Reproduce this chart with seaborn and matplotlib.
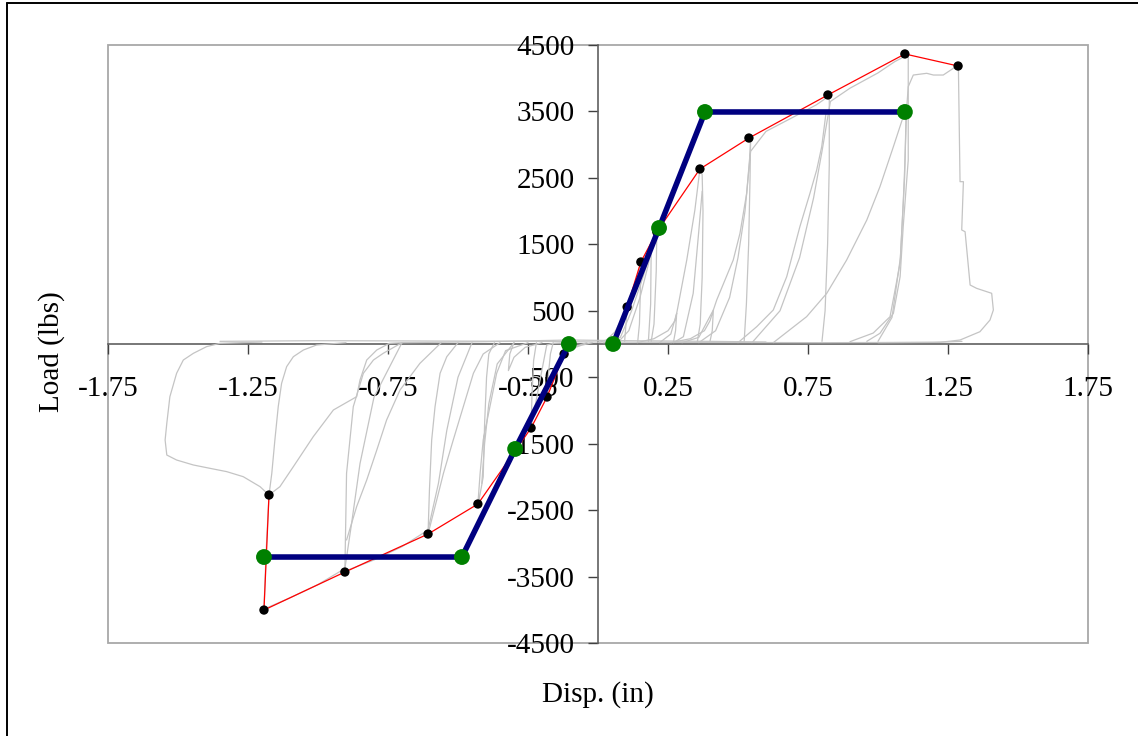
import matplotlib
matplotlib.use("Agg")
import matplotlib.pyplot as plt
import seaborn as sns
from matplotlib.patches import Rectangle
from matplotlib.lines import Line2D

# envelope points (black dots, red line)
env_pos_x = [0.104, 0.153, 0.21, 0.364, 0.539, 0.821, 1.096, 1.286]
env_pos_y = [557, 1234, 1686, 2634, 3100, 3748, 4365, 4184]
env_neg_x = [-0.121, -0.182, -0.239, -0.429, -0.607, -0.904, -1.193, -1.175]
env_neg_y = [-150, -798, -1264, -2408, -2860, -3432, -4004, -2273]

# bilinear fit (blue line, green dots)
bil_pos_x = [0.054, 0.218, 0.382, 1.096]
bil_pos_y = [0, 1746, 3492, 3492]
bil_neg_x = [-0.104, -0.296, -0.486, -1.193]
bil_neg_y = [0, -1580, -3206, -3206]

# raw test traces (gray)
base_x = [-1.35, -1.0, -0.6, -0.2, 0.0, 0.3, 0.8, 1.2, 1.3]
base_y = [40, 50, 45, 40, 30, 25, 20, 25, 40]
base2_x = [-0.7, -0.4, -0.1, 0.1, 0.4, 0.6]
base2_y = [20, 35, 60, 50, 40, 30]

p1_x = [0.0, 0.03, 0.06, 0.085, 0.104, 0.1, 0.095]
p1_y = [20, 60, 180, 380, 557, 300, 40]
p2_x = [0.02, 0.06, 0.09, 0.12, 0.14, 0.153, 0.152, 0.148, 0.142]
p2_y = [20, 80, 300, 700, 1000, 1234, 900, 300, 40]
p3_x = [0.04, 0.08, 0.12, 0.16, 0.19, 0.21, 0.208, 0.2, 0.19]
p3_y = [20, 100, 500, 1000, 1400, 1686, 1100, 300, 40]
p3b_x = [0.07, 0.11, 0.15, 0.18, 0.19, 0.188, 0.18]
p3b_y = [20, 200, 700, 1200, 1450, 600, 40]
s1_x = [0.14, 0.2, 0.25, 0.275, 0.281, 0.277, 0.27]
s1_y = [20, 80, 200, 350, 462, 200, 40]
s2_x = [0.26, 0.33, 0.38, 0.4, 0.412, 0.408, 0.4]
s2_y = [20, 80, 200, 350, 512, 200, 40]
p4_x = [0.22, 0.26, 0.281, 0.317, 0.346, 0.364, 0.372, 0.375, 0.372, 0.365, 0.355]
p4_y = [20, 150, 462, 1264, 2017, 2634, 2550, 2000, 1000, 300, 40]
p4b_x = [0.27, 0.305, 0.34, 0.36, 0.372]
p4b_y = [20, 110, 763, 1700, 2300]
p5_x = [0.3, 0.36, 0.412, 0.424, 0.483, 0.507, 0.531, 0.543, 0.545, 0.543, 0.538, 0.53, 0.522]
p5_y = [20, 100, 512, 662, 1264, 1665, 2268, 2870, 3080, 2500, 1500, 600, 40]
p6_x = [0.36, 0.42, 0.47, 0.5, 0.525, 0.545, 0.6, 0.7, 0.78, 0.821, 0.826, 0.826, 0.82, 0.811, 0.8]
p6_y = [20, 200, 700, 1300, 2000, 2900, 3200, 3420, 3600, 3720, 3740, 2700, 1500, 500, 40]
p6b_x = [0.5, 0.567, 0.626, 0.674, 0.721, 0.757, 0.781, 0.799, 0.815]
p6b_y = [20, 261, 512, 1013, 1766, 2268, 2619, 2970, 3500]
p7_x = [0.55, 0.65, 0.72, 0.77, 0.8, 0.83, 0.9, 1.0, 1.06, 1.096, 1.108, 1.108, 1.09, 1.079, 1.055, 1.007, 0.96]
p7_y = [20, 500, 1300, 2200, 2900, 3650, 3850, 4080, 4250, 4330, 4320, 2769, 1765, 1013, 462, 161, 40]
p7b_x = [0.626, 0.745, 0.817, 0.888, 0.96, 1.007, 1.055, 1.096, 1.1, 1.095, 1.08, 1.05, 1.0]
p7b_y = [20, 411, 763, 1264, 1866, 2368, 2970, 3497, 3400, 2500, 1300, 400, 40]
p8_x = [0.9, 0.983, 1.043, 1.079, 1.09, 1.096, 1.102, 1.108, 1.126, 1.174, 1.198, 1.233, 1.269, 1.287,
        1.293, 1.305, 1.299, 1.311, 1.329, 1.352, 1.406, 1.412, 1.4, 1.364, 1.293, 1.221, 1.0]
p8_y = [35, 165, 411, 1219, 2117, 2720, 3522, 3873, 4048, 4074, 4048, 4048, 4149, 4199,
        2443, 2443, 1716, 1690, 888, 838, 763, 512, 361, 185, 60, 25, 20]

n1_x = [-0.02, -0.06, -0.1, -0.121, -0.118, -0.11]
n1_y = [20, -20, -80, -150, -60, 20]
n2_x = [-0.04, -0.09, -0.13, -0.16, -0.182, -0.178, -0.17, -0.16]
n2_y = [20, -50, -200, -450, -798, -500, -150, 20]
n3_x = [-0.1, -0.16, -0.183, -0.207, -0.225, -0.239, -0.236, -0.23, -0.22]
n3_y = [20, 10, -15, -542, -943, -1264, -800, -250, 20]
ns1_x = [-0.2, -0.26, -0.3, -0.32, -0.315, -0.3]
ns1_y = [20, -50, -200, -400, -150, 20]
n4_x = [-0.25, -0.33, -0.362, -0.386, -0.41, -0.421, -0.429, -0.425, -0.41, -0.405, -0.398, -0.39, -0.37]
n4_y = [20, -100, -441, -943, -1445, -1946, -2408, -2350, -2000, -1200, -500, -150, 20]
n4b_x = [-0.3, -0.36, -0.39, -0.405, -0.415]
n4b_y = [20, -300, -900, -1500, -2100]
n5_x = [-0.35, -0.41, -0.445, -0.481, -0.517, -0.552, -0.576, -0.607, -0.602, -0.594, -0.582, -0.564, -0.54, -0.5]
n5_y = [20, -150, -441, -943, -1445, -1946, -2348, -2860, -2197, -1445, -943, -441, -191, 20]
n6_x = [-0.45, -0.5, -0.54, -0.57, -0.607, -0.7, -0.8, -0.904, -0.898, -0.874, -0.838, -0.802, -0.767, -0.7]
n6_y = [20, -500, -1300, -2100, -2800, -3050, -3250, -3420, -1946, -943, -441, -241, -140, 20]
n6b_x = [-0.56, -0.636, -0.707, -0.755, -0.79, -0.826, -0.862, -0.898]
n6b_y = [20, -291, -692, -1144, -1595, -2047, -2448, -2950]
n7_x = [-0.7, -0.8, -0.85, -0.88, -0.904, -1.0, -1.1, -1.193, -1.185, -1.175,
        -1.207, -1.267, -1.326, -1.386, -1.445, -1.505, -1.54, -1.546, -1.54, -1.529,
        -1.505, -1.481, -1.445, -1.398, -1.35, -1.2]
n7_y = [20, -800, -1800, -2700, -3380, -3620, -3820, -3990, -3100, -2273,
        -2147, -1997, -1921, -1871, -1821, -1746, -1671, -1445, -1194, -793,
        -441, -241, -140, -40, 10, 30]
n7b_x = [-0.9, -1.005, -1.052, -1.088, -1.112, -1.13, -1.142, -1.154, -1.165, -1.175]
n7b_y = [20, -15, -90, -191, -341, -592, -943, -1445, -1946, -2273]
n7c_x = [-0.7, -0.745, -0.79, -0.826, -0.85, -0.862, -0.945, -1.017, -1.088, -1.136, -1.175]
n7c_y = [20, 10, -90, -241, -542, -793, -993, -1395, -1846, -2147, -2273]

gray_traces = [
    (base_x, base_y), (base2_x, base2_y),
    (p1_x, p1_y), (p2_x, p2_y), (p3_x, p3_y), (p3b_x, p3b_y), (s1_x, s1_y), (s2_x, s2_y),
    (p4_x, p4_y), (p4b_x, p4b_y), (p5_x, p5_y), (p6_x, p6_y), (p6b_x, p6b_y),
    (p7_x, p7_y), (p7b_x, p7b_y), (p8_x, p8_y),
    (n1_x, n1_y), (n2_x, n2_y), (n3_x, n3_y), (ns1_x, ns1_y), (n4_x, n4_y), (n4b_x, n4b_y),
    (n5_x, n5_y), (n6_x, n6_y), (n6b_x, n6b_y), (n7_x, n7_y), (n7b_x, n7b_y), (n7c_x, n7c_y),
]

x_ticks = [-1.75, -1.25, -0.75, -0.25, 0.25, 0.75, 1.25, 1.75]
x_tick_labels = ['-1.75', '-1.25', '-0.75', '-0.25', '0.25', '0.75', '1.25', '1.75']
y_ticks = [-4500, -3500, -2500, -1500, -500, 500, 1500, 2500, 3500, 4500]
y_tick_labels = ['-4500', '-3500', '-2500', '-1500', '-500', '500', '1500', '2500', '3500', '4500']

sns.set_style('white')
plt.rcParams['font.family'] = ['Liberation Serif', 'DejaVu Serif']
plt.rcParams['text.color'] = 'black'
plt.rcParams['xtick.color'] = 'black'
plt.rcParams['ytick.color'] = 'black'

fig = plt.figure(figsize=(11.38, 7.36), dpi=100)
ax = fig.add_axes([108 / 1138, 93 / 736, 980 / 1138, 598 / 736])

for tx, ty in gray_traces:
    sns.lineplot(x=tx, y=ty, sort=False, estimator=None, color='#c4c4c4', lw=0.9, ax=ax, zorder=2)

sns.lineplot(x=env_pos_x, y=env_pos_y, sort=False, estimator=None, color='red', lw=0.9, ax=ax, zorder=3)
sns.lineplot(x=env_neg_x, y=env_neg_y, sort=False, estimator=None, color='red', lw=0.9, ax=ax, zorder=3)
sns.scatterplot(x=env_pos_x + env_neg_x, y=env_pos_y + env_neg_y, color='black', s=45,
                edgecolor='none', ax=ax, zorder=4)

sns.lineplot(x=bil_pos_x, y=bil_pos_y, sort=False, estimator=None, color='#000080', lw=4, ax=ax, zorder=5)
sns.lineplot(x=bil_neg_x, y=bil_neg_y, sort=False, estimator=None, color='#000080', lw=4, ax=ax, zorder=5)
sns.scatterplot(x=bil_pos_x + bil_neg_x, y=bil_pos_y + bil_neg_y, color='#008000', s=130,
                edgecolor='none', ax=ax, zorder=6)

ax.set_xlim(-1.75, 1.75)
ax.set_ylim(-4500, 4500)
ax.spines['left'].set_position(('data', 0))
ax.spines['bottom'].set_position(('data', 0))
ax.spines['top'].set_visible(False)
ax.spines['right'].set_visible(False)
for s in ['left', 'bottom']:
    ax.spines[s].set_color('#606060')
    ax.spines[s].set_linewidth(1.2)
    ax.spines[s].set_zorder(1.5)

ax.set_xticks(x_ticks)
ax.set_xticklabels(x_tick_labels)
ax.set_yticks(y_ticks)
ax.set_yticklabels(y_tick_labels)
ax.tick_params(axis='both', direction='out', length=7, width=1, color='#404040',
               labelcolor='black', labelsize=21)
ax.tick_params(axis='x', pad=16)
ax.tick_params(axis='y', pad=10)
ax.xaxis.set_ticks_position('bottom')
ax.yaxis.set_ticks_position('left')

ax.add_patch(Rectangle((0, 0), 1, 1, transform=ax.transAxes, fill=False,
                       edgecolor='#a8a8a8', lw=1.3, clip_on=False, zorder=0))

fig.text(598 / 1138, 1 - 695 / 736, 'Disp. (in)', ha='center', va='center', fontsize=21, color='black')
fig.text(52 / 1138, 1 - 352 / 736, 'Load (lbs)', ha='center', va='center', fontsize=21,
         rotation=90, color='black')

fig.add_artist(Line2D([6.5 / 1138, 6.5 / 1138], [0, 1 - 3 / 736], color='black', lw=1.4))
fig.add_artist(Line2D([6.5 / 1138, 1], [1 - 3 / 736, 1 - 3 / 736], color='black', lw=1.4))

fig.savefig('out.png', dpi=100)
